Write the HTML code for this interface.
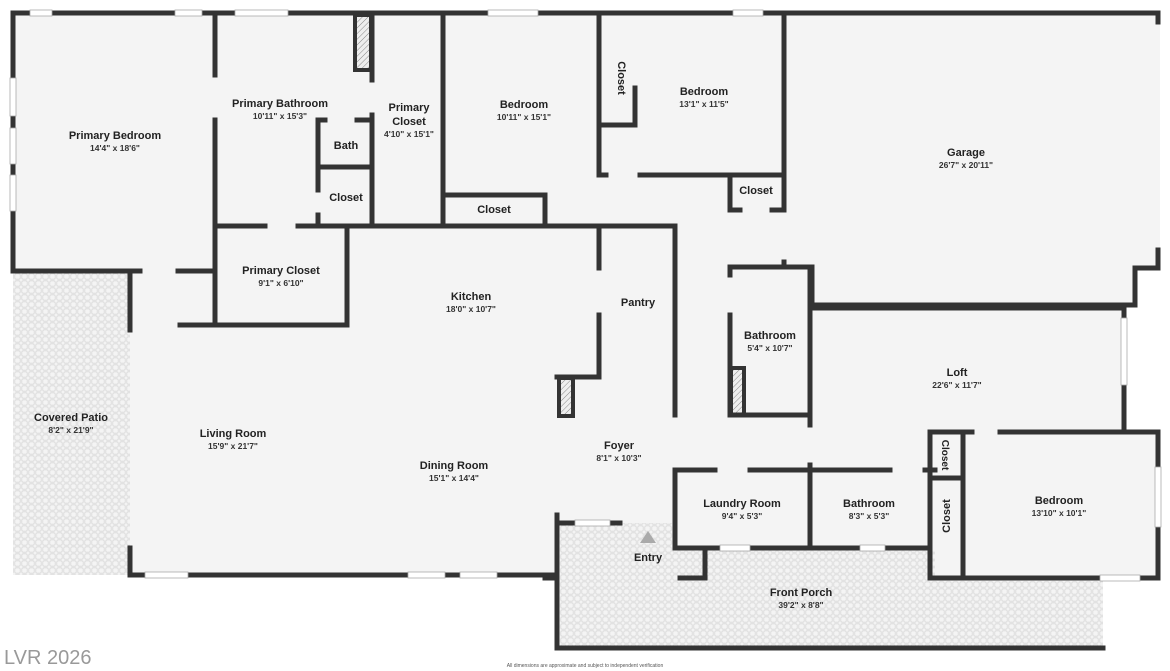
<!DOCTYPE html>
<html><head><meta charset="utf-8"><style>
html,body{margin:0;padding:0;background:#fff;}
svg{display:block;}
text{font-family:"Liberation Sans",sans-serif;fill:#222;text-anchor:middle;}
.n{font-size:11px;font-weight:bold;}
.d{font-size:8.5px;font-weight:bold;fill:#333;}
</style></head><body>
<svg width="1170" height="671" viewBox="0 0 1170 671" xmlns="http://www.w3.org/2000/svg">
<defs>
<pattern id="tile" width="7" height="7" patternUnits="userSpaceOnUse">
<rect width="7" height="7" fill="#f4f4f4"/>
<rect x="0.8" y="0.8" width="5.4" height="5.4" rx="1.5" fill="none" stroke="#d8d8d8" stroke-width="0.8"/>
</pattern>
<pattern id="hatch" width="4" height="4" patternUnits="userSpaceOnUse" patternTransform="rotate(45)">
<rect width="4" height="4" fill="#eee"/><line x1="0" y1="0" x2="0" y2="4" stroke="#888" stroke-width="1"/>
</pattern>
</defs>
<polygon points="13,13 1160,13 1160,268 1135,268 1135,305 1124,305 1124,432 1160,432 1160,578 935,578 935,548 557,548 557,575 13,575" fill="#f4f4f4"/>
<rect x="13" y="271" width="117" height="304" fill="url(#tile)"/>
<polygon points="557,523 675,523 675,548 705,548 705,578 675,578 675,548 935,548 935,578 1103,578 1103,648 557,648" fill="url(#tile)"/>
<rect x="675" y="548" width="30" height="30" fill="url(#tile)"/>
<rect x="355" y="15" width="16" height="55" fill="url(#hatch)" stroke="#333" stroke-width="4"/>
<rect x="559" y="378" width="14" height="38" fill="url(#hatch)" stroke="#333" stroke-width="4"/>
<rect x="731" y="368" width="13" height="47" fill="url(#hatch)" stroke="#333" stroke-width="4"/>
<g stroke="#333" stroke-width="5" fill="none" stroke-linecap="square">
<path d="M13,13 H1158 V22"/>
<path d="M1158,250 V268 H1135 V305 H812"/>
<path d="M13,13 V271 H140 M178,271 H215"/>
<path d="M215,13 V75 M215,120 V325 M180,325 H347 V226"/>
<path d="M130,271 V330 M130,548 V575 H557"/>
<path d="M215,226 H265 M298,226 H599"/>
<path d="M372,13 V80 M372,115 V226"/>
<path d="M318,120 H325 M357,120 H372 M318,120 V190 M318,215 V226 M318,167 H372"/>
<path d="M443,13 V226 M445,195 H545 V224"/>
<path d="M599,13 V125 H635 V88"/>
<path d="M599,125 V175 H606 M640,175 H784 M599,226 V268 M599,315 V377 H557 M675,226 V415 M599,226 H675"/>
<path d="M784,13 V210 H772 M740,210 H730 V180 M784,262 V267 M730,267 H812 M730,267 V275 M730,315 V415 H810 V267"/>
<path d="M812,267 V305 M810,308 H1124 V318 M1124,385 V432 H1000 M972,432 H930 V478 H963 V432 M963,432 V578 M930,478 V578 H935 H1100 M1140,578 H1158 V500 M1158,532 V432 H1124"/>
<path d="M810,415 V425 M810,465 V548 M675,470 H715 M750,470 H890 M925,470 H935"/>
<path d="M675,470 V548 H720 M750,548 H860 M885,548 H930"/>
<path d="M705,548 V578 H680"/>
<path d="M557,515 V648 H1103 M557,523 H575 M610,523 H620 M557,578 H545"/>
<path d="M963,490 V540"/>
</g>
<g fill="#fff" stroke="#aaa" stroke-width="0.8">
<rect x="30" y="10" width="22" height="6"/><rect x="175" y="10" width="27" height="6"/>
<rect x="235" y="10" width="53" height="6"/><rect x="488" y="10" width="50" height="6"/>
<rect x="733" y="10" width="30" height="6"/>
<rect x="10" y="78" width="6" height="38"/><rect x="10" y="128" width="6" height="36"/><rect x="10" y="175" width="6" height="36"/>
<rect x="145" y="572" width="43" height="6"/><rect x="408" y="572" width="37" height="6"/><rect x="460" y="572" width="37" height="6"/>
<rect x="575" y="520" width="35" height="6"/><rect x="720" y="545" width="30" height="6"/><rect x="860" y="545" width="25" height="6"/>
<rect x="1121" y="318" width="6" height="67"/><rect x="1155" y="467" width="6" height="60"/><rect x="1100" y="575" width="40" height="6"/>
</g>
<polygon points="640,543 656,543 648,531" fill="#aaa"/>
<text class="n" x="115" y="139">Primary Bedroom</text><text class="d" x="115" y="151">14'4" x 18'6"</text>
<text class="n" x="280" y="107">Primary Bathroom</text><text class="d" x="280" y="119">10'11" x 15'3"</text>
<text class="n" x="346" y="149">Bath</text><text class="n" x="346" y="201">Closet</text>
<text class="n" x="409" y="111">Primary</text><text class="n" x="409" y="125">Closet</text><text class="d" x="409" y="137">4'10" x 15'1"</text>
<text class="n" x="524" y="108">Bedroom</text><text class="d" x="524" y="120">10'11" x 15'1"</text>
<text class="n" x="494" y="213">Closet</text>
<text class="n" x="622" y="74" transform="rotate(90 618 74)">Closet</text>
<text class="n" x="704" y="95">Bedroom</text><text class="d" x="704" y="107">13'1" x 11'5"</text>
<text class="n" x="756" y="194">Closet</text>
<text class="n" x="966" y="156">Garage</text><text class="d" x="966" y="168">26'7" x 20'11"</text>
<text class="n" x="281" y="274">Primary Closet</text><text class="d" x="281" y="286">9'1" x 6'10"</text>
<text class="n" x="471" y="300">Kitchen</text><text class="d" x="471" y="312">18'0" x 10'7"</text>
<text class="n" x="638" y="306">Pantry</text>
<text class="n" x="770" y="339">Bathroom</text><text class="d" x="770" y="351">5'4" x 10'7"</text>
<text class="n" x="957" y="376">Loft</text><text class="d" x="957" y="388">22'6" x 11'7"</text>
<text class="n" x="71" y="421">Covered Patio</text><text class="d" x="71" y="433">8'2" x 21'9"</text>
<text class="n" x="233" y="437">Living Room</text><text class="d" x="233" y="449">15'9" x 21'7"</text>
<text class="n" x="454" y="469">Dining Room</text><text class="d" x="454" y="481">15'1" x 14'4"</text>
<text class="n" x="619" y="449">Foyer</text><text class="d" x="619" y="461">8'1" x 10'3"</text>
<text class="n" x="742" y="507">Laundry Room</text><text class="d" x="742" y="519">9'4" x 5'3"</text>
<text class="n" x="869" y="507">Bathroom</text><text class="d" x="869" y="519">8'3" x 5'3"</text>
<text class="n" x="946" y="459" style="font-size:10px" transform="rotate(90 946 455)">Closet</text>
<text class="n" x="946" y="520" transform="rotate(-90 946 516)">Closet</text>
<text class="n" x="1059" y="504">Bedroom</text><text class="d" x="1059" y="516">13'10" x 10'1"</text>
<text class="n" x="648" y="561">Entry</text>
<text class="n" x="801" y="596">Front Porch</text><text class="d" x="801" y="608">39'2" x 8'8"</text>
<text x="4" y="664" style="font-size:20px;fill:#999;text-anchor:start;">LVR 2026</text>
<text x="585" y="667" style="font-size:5px;fill:#555;">All dimensions are approximate and subject to independent verification</text>
</svg>
</body></html>
